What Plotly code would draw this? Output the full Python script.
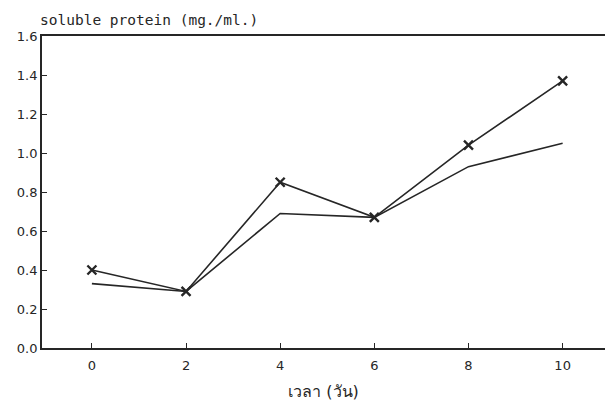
import plotly.graph_objects as go

# Incubation time (days)
days = [0, 2, 4, 6, 8, 10]
# Soluble protein (mg./ml.), series plotted with cross markers
protein_marked = [0.40, 0.29, 0.85, 0.67, 1.04, 1.37]
# Soluble protein (mg./ml.), series plotted as a plain line
protein_plain = [0.33, 0.29, 0.69, 0.67, 0.93, 1.05]

x_ticks = [0, 2, 4, 6, 8, 10]
y_ticks = [0.0, 0.2, 0.4, 0.6, 0.8, 1.0, 1.2, 1.4, 1.6]

ink = "#262626"

fig = go.Figure()
fig.add_trace(go.Scatter(
    x=days, y=protein_plain, mode="lines",
    line=dict(color=ink, width=1.6), showlegend=False,
))
fig.add_trace(go.Scatter(
    x=days, y=protein_marked, mode="lines+markers",
    line=dict(color=ink, width=1.6),
    marker=dict(symbol="x-thin-open", size=9, line=dict(color=ink, width=2.4)),
    showlegend=False,
))

fig.update_layout(
    width=605, height=407,
    margin=dict(l=42, r=0, t=36, b=59),
    paper_bgcolor="white", plot_bgcolor="white",
    font=dict(family="DejaVu Sans", color=ink),
    xaxis=dict(
        range=[-1.06, 10.9], tickvals=x_ticks,
        ticktext=[str(v) for v in x_ticks],
        ticks="inside", ticklen=5, tickwidth=1.2, tickcolor=ink,
        showline=True, linecolor=ink, linewidth=1.8, mirror=True,
        showgrid=False, zeroline=False,
        tickfont=dict(size=13, color=ink), ticklabelstandoff=4,
        title=dict(text="เวลา (วัน)", font=dict(size=16, color=ink), standoff=14),
    ),
    yaxis=dict(
        range=[0, 1.6], tickvals=y_ticks,
        ticktext=[f"{v:.1f}" for v in y_ticks],
        ticks="inside", ticklen=5, tickwidth=1.2, tickcolor=ink,
        showline=True, linecolor=ink, linewidth=1.8,
        showgrid=False, zeroline=False,
        tickfont=dict(size=13, color=ink),
    ),
    annotations=[dict(
        text="soluble protein (mg./ml.)", xref="paper", yref="paper",
        x=0, y=1, xanchor="left", yanchor="bottom", yshift=6, xshift=-4,
        showarrow=False, font=dict(family="DejaVu Sans Mono", size=14.5, color=ink),
    )],
)

fig.write_html("out.html")
